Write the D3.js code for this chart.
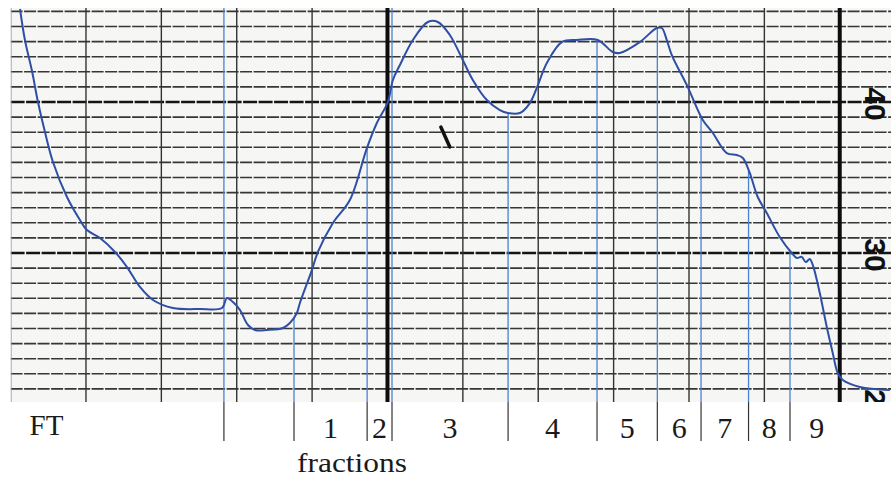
<!DOCTYPE html>
<html>
<head>
<meta charset="utf-8">
<script src="https://cdn.jsdelivr.net/npm/d3@7"></script>
<style>
  html, body { margin: 0; padding: 0; background: #ffffff; }
  svg { display: block; }
</style>
</head>
<body>
<svg id="chart" width="891" height="477"></svg>
<script>
// ---- data (chart-paper position in grid units, recorder signal) ----
const chartPos = [0.125, 0.19, 0.284, 0.363, 0.456, 0.562, 0.748, 0.92, 1.013, 1.186, 1.385, 1.544, 1.716, 1.889, 2.154, 2.512, 2.804, 2.87, 2.95, 3.042, 3.149, 3.241, 3.401, 3.613, 3.705, 3.798, 3.838, 3.997, 4.077, 4.276, 4.501, 4.727, 4.859, 5.005, 5.072, 5.165, 5.337, 5.536, 5.668, 5.827, 5.999, 6.132, 6.318, 6.491, 6.597, 6.756, 6.889, 6.981, 7.114, 7.313, 7.512, 7.79, 7.989, 8.082, 8.347, 8.573, 8.639, 8.705, 8.772, 8.984, 9.183, 9.316, 9.501, 9.634, 9.714, 9.806, 9.912, 10.032, 10.204, 10.363, 10.43, 10.496, 10.549, 10.602, 10.642, 10.735, 10.828, 10.907, 10.973, 11.04, 11.266, 11.664];
const signal = [46.16, 44.11, 42.05, 40.0, 38.01, 36.03, 33.71, 32.19, 31.52, 30.99, 30.07, 29.07, 27.75, 26.89, 26.36, 26.29, 26.36, 27.02, 26.75, 26.23, 25.23, 24.9, 24.9, 25.03, 25.36, 26.03, 26.69, 28.87, 30.07, 31.99, 33.51, 36.95, 38.61, 40.0, 41.46, 42.45, 44.11, 45.3, 45.3, 44.44, 42.78, 41.46, 40.13, 39.47, 39.27, 39.27, 39.93, 40.93, 42.58, 43.97, 44.11, 44.11, 43.31, 43.25, 43.97, 44.9, 44.9, 44.11, 43.11, 40.99, 38.81, 37.95, 36.62, 36.49, 36.29, 35.3, 33.71, 32.65, 31.06, 30.0, 29.67, 29.74, 29.4, 29.6, 29.21, 27.35, 25.1, 23.38, 22.05, 21.59, 21.13, 20.93];

// fraction marks (chart position); first mark ends the flow-through, second starts fraction 1
const fractionBounds = [2.83, 3.76, 4.73, 5.06, 6.60, 7.78, 8.58, 9.16, 9.79, 10.34];
const fractionEnd = 11.05;
const fractionLabels = ["1", "2", "3", "4", "5", "6", "7", "8", "9"];
const markFromTop = [true, false, false, true, false, false, false, false, false, false];
const flowThroughLabel = "FT";
const axisTitle = "fractions";

// recorder scale labels
const yTickLabels = [20, 30, 40];
const xGridUnits = d3.range(1, 12);
const xThickUnits = [5, 11];
const yGridValues = d3.range(21, 47);
const yThickValues = [30, 40];

// pen mark on the paper
const penMark = [[5.708, 38.34], [5.827, 37.02]];

// ---- layout ----
const W = 891, H = 477;
const paperTop = 8, paperBottom = 402, paperLeft = 10.6;

const x = d3.scaleLinear().domain([0, 11.68]).range([paperLeft, W]);
const y = d3.scaleLinear().domain([20, 46.16]).range([404, 9]);

const svg = d3.select("#chart");

svg.append("defs").append("clipPath").attr("id", "paperClip")
  .append("rect").attr("x", paperLeft).attr("y", paperTop)
  .attr("width", W - paperLeft).attr("height", paperBottom - paperTop);

// paper
svg.append("rect").attr("x", paperLeft).attr("y", paperTop)
  .attr("width", W - paperLeft).attr("height", paperBottom - paperTop)
  .attr("fill", "#f6f6f4");

const paper = svg.append("g").attr("clip-path", "url(#paperClip)");

// horizontal grid
paper.append("g").selectAll("line").data(yGridValues).join("line")
  .attr("x1", paperLeft).attr("x2", W)
  .attr("y1", d => y(d)).attr("y2", d => y(d))
  .attr("stroke", d => yThickValues.includes(d) ? "#151515" : "#363636")
  .attr("stroke-width", d => yThickValues.includes(d) ? 2.6 : 1.6)
  .attr("stroke-dasharray", d => yThickValues.includes(d) ? "14,1.5" : "12,1.5");

// vertical grid
paper.append("g").selectAll("line").data(xGridUnits).join("line")
  .attr("x1", d => x(d)).attr("x2", d => x(d))
  .attr("y1", paperTop).attr("y2", paperBottom)
  .attr("stroke", d => xThickUnits.includes(d) ? "#0d0d0d" : "#333")
  .attr("stroke-width", d => xThickUnits.includes(d) ? 4 : 1.4);

// left paper edge
paper.append("line").attr("x1", paperLeft + 0.5).attr("x2", paperLeft + 0.5)
  .attr("y1", paperTop).attr("y2", paperBottom)
  .attr("stroke", "#9a9a9a").attr("stroke-width", 1);

// right-hand scale labels (rotated, as printed on the recorder paper)
paper.append("g").selectAll("text").data(yTickLabels).join("text")
  .attr("transform", d => `translate(${x(11) + 25},${y(d) + 2}) rotate(90)`)
  .attr("text-anchor", "middle")
  .attr("font-family", "Liberation Sans, Arial, sans-serif")
  .attr("font-weight", "bold")
  .attr("font-size", 30)
  .attr("fill", "#111")
  .text(d => d);

// interpolate signal at a chart position
function signalAt(p) {
  const i = d3.bisectLeft(chartPos, p);
  if (i <= 0) return signal[0];
  if (i >= chartPos.length) return signal[signal.length - 1];
  const t = (p - chartPos[i - 1]) / (chartPos[i] - chartPos[i - 1]);
  return signal[i - 1] + t * (signal[i] - signal[i - 1]);
}

// blue fraction marks on paper
paper.append("g").selectAll("line").data(fractionBounds).join("line")
  .attr("x1", d => x(d)).attr("x2", d => x(d))
  .attr("y1", (d, i) => markFromTop[i] ? paperTop : y(signalAt(d)))
  .attr("y2", paperBottom)
  .attr("stroke", "#4a82d4").attr("stroke-width", 1.3);

// pen mark
paper.append("line")
  .attr("x1", x(penMark[0][0])).attr("y1", y(penMark[0][1]))
  .attr("x2", x(penMark[1][0])).attr("y2", y(penMark[1][1]))
  .attr("stroke", "#111").attr("stroke-width", 3.5).attr("stroke-linecap", "round");

// recorder trace
const pts = chartPos.map((p, i) => [p, signal[i]]);
paper.append("path").datum(pts)
  .attr("fill", "none")
  .attr("stroke", "#2f4fa6")
  .attr("stroke-width", 2)
  .attr("stroke-linejoin", "round")
  .attr("d", d3.line().x(d => x(d[0])).y(d => y(d[1])).curve(d3.curveCatmullRom.alpha(0.5)));

// fraction dividers below the paper
svg.append("g").selectAll("line").data(fractionBounds).join("line")
  .attr("x1", d => x(d)).attr("x2", d => x(d))
  .attr("y1", paperBottom).attr("y2", 441)
  .attr("stroke", "#333").attr("stroke-width", 1.2);

// fraction labels: fraction k lies between mark k and mark k+1
const starts = fractionBounds.slice(1);
const ends = fractionBounds.slice(2).concat([fractionEnd]);
svg.append("g").selectAll("text").data(fractionLabels).join("text")
  .attr("x", (d, i) => x((starts[i] + ends[i]) / 2))
  .attr("y", 438)
  .attr("text-anchor", "middle")
  .attr("font-family", "Liberation Serif, Times New Roman, serif")
  .attr("font-size", 30)
  .attr("fill", "#1a1a1a")
  .text(d => d);

svg.append("text")
  .attr("x", x(0) + 19).attr("y", 435)
  .attr("font-family", "Liberation Serif, Times New Roman, serif")
  .attr("font-size", 29)
  .attr("fill", "#1a1a1a")
  .text(flowThroughLabel);

svg.append("text")
  .attr("x", 297).attr("y", 472)
  .attr("font-family", "Liberation Serif, Times New Roman, serif")
  .attr("font-size", 28)
  .attr("textLength", 110).attr("lengthAdjust", "spacingAndGlyphs")
  .attr("fill", "#1a1a1a")
  .text(axisTitle);
</script>
</body>
</html>
